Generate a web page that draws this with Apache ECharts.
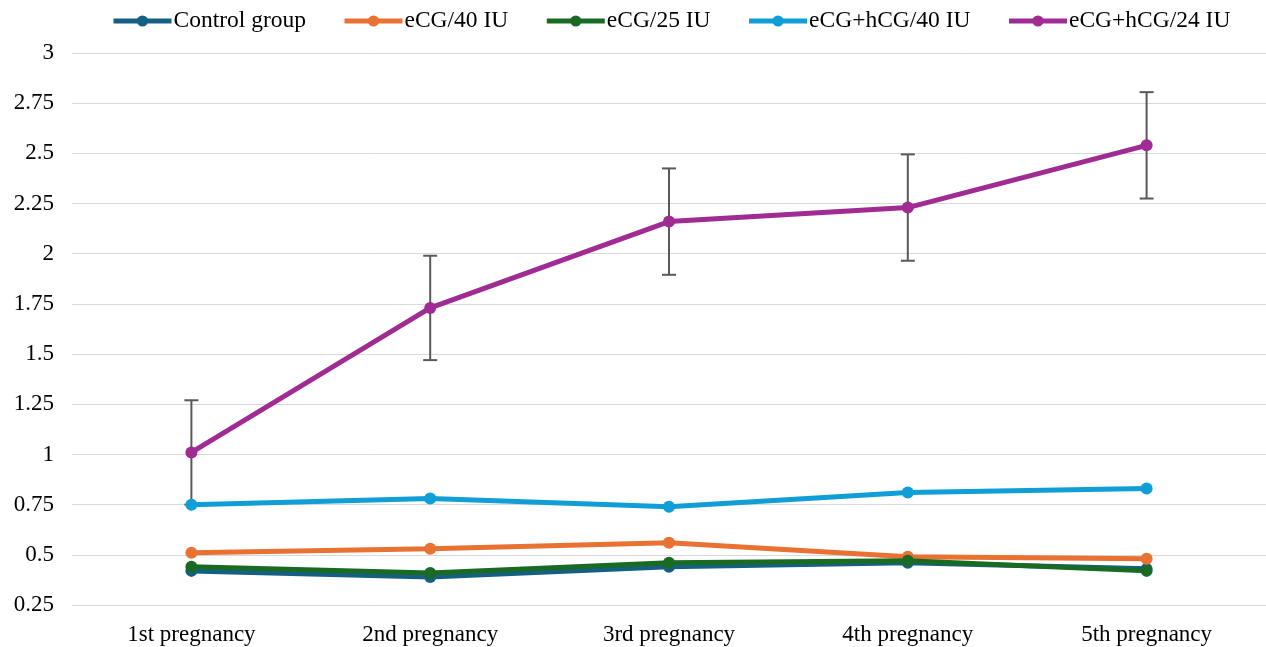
<!DOCTYPE html>
<html>
<head>
<meta charset="utf-8">
<script src="https://cdn.jsdelivr.net/npm/echarts@6/dist/echarts.min.js"></script>
<style>html,body{margin:0;padding:0;background:#fff}#c{width:1266px;height:647px}</style>
</head>
<body>
<div id="c"></div>
<script>
const categories = ['1st pregnancy', '2nd pregnancy', '3rd pregnancy', '4th pregnancy', '5th pregnancy'];
const seriesNames = ['Control group', 'eCG/40 IU', 'eCG/25 IU', 'eCG+hCG/40 IU', 'eCG+hCG/24 IU'];
const controlGroup = [0.42, 0.39, 0.44, 0.46, 0.43];
const ecg40 = [0.51, 0.53, 0.56, 0.49, 0.48];
const ecg25 = [0.44, 0.41, 0.46, 0.47, 0.42];
const ecgHcg40 = [0.75, 0.78, 0.74, 0.81, 0.83];
const ecgHcg24 = [1.01, 1.73, 2.16, 2.23, 2.54];
const ecgHcg24Err = [0.26, 0.26, 0.265, 0.265, 0.265];
const colors = ['#156082', '#E97132', '#196B24', '#0F9ED5', '#A02B93'];
const yTicks = { min: 0.25, max: 3, interval: 0.25 };

const font = 'Liberation Serif';
const values = [controlGroup, ecg40, ecg25, ecgHcg40, ecgHcg24];

const chart = echarts.init(document.getElementById('c'));
const lineSeries = seriesNames.map((n, i) => ({
  name: n,
  type: 'line',
  data: values[i],
  symbol: 'circle',
  symbolSize: 12,
  color: colors[i],
  lineStyle: { width: 5, color: colors[i] },
  itemStyle: { color: colors[i] },
  z: 3,
  animation: false
}));

const errData = ecgHcg24.map((v, i) => [i, v - ecgHcg24Err[i], v + ecgHcg24Err[i]]);
const errSeries = {
  type: 'custom',
  name: 'err',
  z: 1,
  data: errData,
  animation: false,
  renderItem: function (params, api) {
    const x = api.value(0);
    const lo = api.coord([x, api.value(1)]);
    const hi = api.coord([x, api.value(2)]);
    const w = 7;
    const st = { stroke: '#595959', lineWidth: 2 };
    return {
      type: 'group',
      children: [
        { type: 'line', shape: { x1: lo[0], y1: lo[1], x2: hi[0], y2: hi[1] }, style: st },
        { type: 'line', shape: { x1: lo[0] - w, y1: lo[1], x2: lo[0] + w, y2: lo[1] }, style: st },
        { type: 'line', shape: { x1: hi[0] - w, y1: hi[1], x2: hi[0] + w, y2: hi[1] }, style: st }
      ]
    };
  }
};

chart.setOption({
  backgroundColor: '#fff',
  animation: false,
  legend: {
    data: seriesNames,
    top: 4,
    left: 106,
    itemWidth: 58,
    itemHeight: 14,
    itemGap: 36,
    lineStyle: { width: 5 },
    textStyle: { fontFamily: font, fontSize: 23.5, color: '#000', padding: [0, 0, 0, -3] }
  },
  grid: { left: 72, right: 0, top: 53, bottom: 42, containLabel: false },
  xAxis: {
    type: 'category',
    data: categories,
    boundaryGap: true,
    axisLine: { show: false },
    axisTick: { show: false },
    axisLabel: { fontFamily: font, fontSize: 23, color: '#000', margin: 18 }
  },
  yAxis: {
    type: 'value',
    min: yTicks.min,
    max: yTicks.max,
    interval: yTicks.interval,
    axisLine: { show: false },
    axisTick: { show: false },
    axisLabel: { fontFamily: font, fontSize: 23, color: '#000', margin: 18 },
    splitLine: { lineStyle: { color: '#d9d9d9', width: 1 } }
  },
  series: [errSeries].concat(lineSeries)
});
</script>
</body>
</html>
